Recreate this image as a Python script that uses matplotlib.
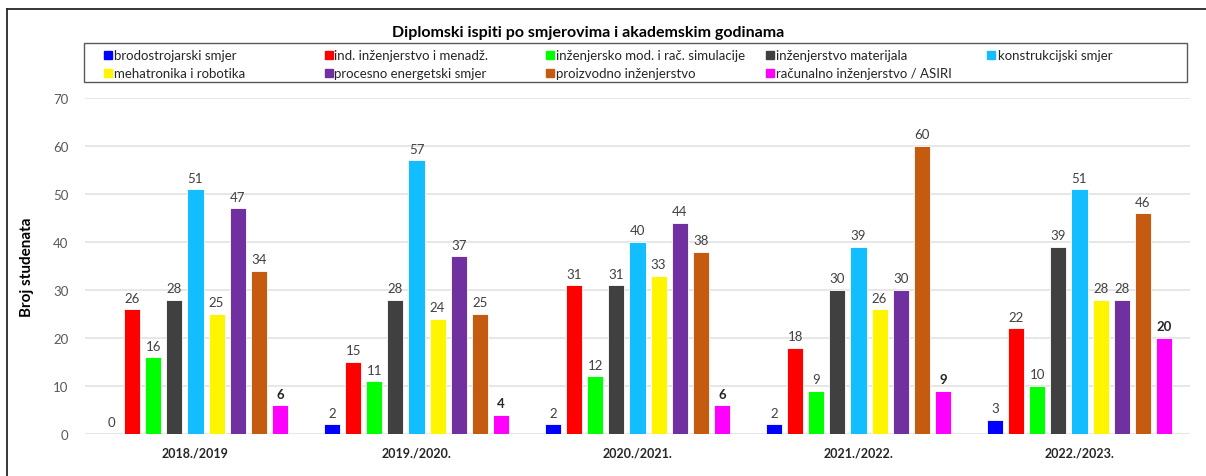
import numpy as np
import matplotlib
matplotlib.use('Agg')
import matplotlib.pyplot as plt
from matplotlib.lines import Line2D
from matplotlib.patches import Rectangle

plt.rcParams['font.family'] = ['Lato', 'DejaVu Sans']

# Podaci
godine = ['2018./2019', '2019./2020.', '2020./2021.', '2021./2022.', '2022./2023.']
smjerovi = ['brodostrojarski smjer', 'ind. inženjerstvo i menadž.', 'inženjersko mod. i rač. simulacije',
            'inženjerstvo materijala', 'konstrukcijski smjer', 'mehatronika i robotika',
            'procesno energetski smjer', 'proizvodno inženjerstvo', 'računalno inženjerstvo / ASIRI']
brodostrojarski = [0, 2, 2, 2, 3]
ind_inz = [26, 15, 31, 18, 22]
inz_mod = [16, 11, 12, 9, 10]
materijali = [28, 28, 31, 30, 39]
konstrukcijski = [51, 57, 40, 39, 51]
mehatronika = [25, 24, 33, 26, 28]
procesno = [47, 37, 44, 30, 28]
proizvodno = [34, 25, 38, 60, 46]
racunalno = [6, 4, 6, 9, 20]

serije = [brodostrojarski, ind_inz, inz_mod, materijali, konstrukcijski,
          mehatronika, procesno, proizvodno, racunalno]
boje = ['#0000FF', '#FF0000', '#00FF00', '#404040', '#12BEFF',
        '#FFF500', '#7030A0', '#C55A11', '#FF00FF']

W, H = 1206, 477
fig = plt.figure(figsize=(W / 100, H / 100), dpi=100)
ax = fig.add_axes([85 / W, 1 - 435 / H, 1105 / W, 336 / H])

x = np.arange(len(godine))
slot = 0.0955
width = 0.073
for i, (vals, c) in enumerate(zip(serije, boje)):
    pos = x + (i - 4) * slot
    ax.bar(pos, vals, width, color=c, edgecolor='white', linewidth=0.6, zorder=3)
    bold = (i == 8)
    for p, v in zip(pos, vals):
        ax.annotate(str(v), (p, v), xytext=(0, 4), textcoords='offset points',
                    ha='center', va='bottom', fontsize=9.5,
                    color='#262626' if bold else '#404040',
                    fontweight='bold' if bold else 'normal')

ax.set_xlim(-0.5, 4.5)
ax.set_ylim(0, 70)
ax.set_yticks(range(0, 71, 10))
ax.yaxis.grid(True, color='#E3E3E3', linewidth=1.2, zorder=0)
ax.set_axisbelow(True)
for s in ax.spines.values():
    s.set_visible(False)
ax.tick_params(axis='both', length=0)
ax.tick_params(axis='y', labelsize=9.5, labelcolor='#595959', pad=12)
ax.set_xticks(x)
ax.set_xticklabels(godine, fontsize=9, fontweight='bold', color='#262626')
ax.tick_params(axis='x', pad=9)
ax.set_ylabel('Broj studenata', fontsize=11, fontweight='bold', color='#000000', labelpad=14)

fig.text(588 / W, 1 - 33 / H, 'Diplomski ispiti po smjerovima i akademskim godinama',
         ha='center', va='center', fontsize=11.5, fontweight='bold', color='#000000')

# legenda - rucno, 5 stupaca x 2 reda
fig.add_artist(Rectangle((84 / W, 1 - 83 / H), 1103 / W, 39 / H, transform=fig.transFigure,
                         facecolor='white', edgecolor='#595959', linewidth=1.0))
for k, (naziv, c) in enumerate(zip(smjerovi, boje)):
    red, stupac = divmod(k, 5)
    xs = 107.5 + 221 * stupac
    ys = 56 + 18 * red
    fig.add_artist(Line2D([xs / W], [1 - ys / H], marker='s', markersize=5.5, linestyle='none',
                          markerfacecolor=c, markeredgecolor=c, transform=fig.transFigure))
    fig.text((xs + 6) / W, 1 - ys / H, naziv, ha='left', va='center',
             fontsize=9.5, color='#262626')

# okvir
fig.add_artist(Line2D([7 / W, 1], [1 - 10 / H, 1 - 10 / H], color='#262626', linewidth=1.3))
fig.add_artist(Line2D([7 / W, 7 / W], [0, 1 - 10 / H], color='#262626', linewidth=1.3))

fig.savefig('out.png', dpi=100, facecolor='white')
